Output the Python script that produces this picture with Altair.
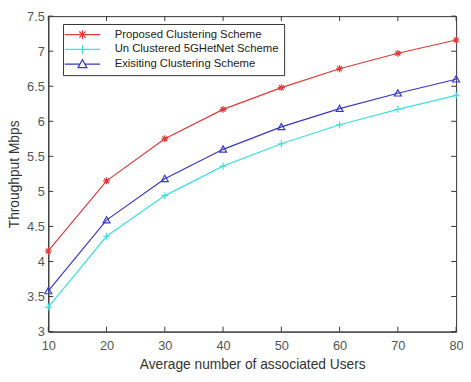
import altair as alt
import pandas as pd

users = [10, 20, 30, 40, 50, 60, 70, 80]
proposed = [4.15, 5.15, 5.75, 6.17, 6.48, 6.75, 6.97, 7.16]
unclustered = [3.35, 4.36, 4.94, 5.36, 5.68, 5.95, 6.17, 6.37]
existing = [3.58, 4.59, 5.18, 5.60, 5.92, 6.18, 6.40, 6.60]
yticks = [3, 3.5, 4, 4.5, 5, 5.5, 6, 6.5, 7, 7.5]

series = ["Proposed Clustering Scheme", "Un Clustered 5GHetNet Scheme", "Exisiting Clustering Scheme"]
colors = ["#e03a3a", "#3fe0e0", "#3838c8"]
markers = [
    "M-1,0L1,0M0,-1L0,1M-0.7,-0.7L0.7,0.7M-0.7,0.7L0.7,-0.7",
    "M-1,0L1,0M0,-1L0,1",
    "M0,-1L1,0.8L-1,0.8Z",
]
leg_paths = [
    "M-4,0L4,0M0,-1L0,1M-0.7,-0.7L0.7,0.7M-0.7,0.7L0.7,-0.7",
    "M-4,0L4,0M0,-1L0,1",
    "M-4,0L-0.55,0M0.55,0L4,0M0,-1L1,0.8L-1,0.8Z",
]

rows = []
for name, vals in zip(series, [proposed, unclustered, existing]):
    for u, v in zip(users, vals):
        rows.append({"users": u, "tp": v, "series": name})
df = pd.DataFrame(rows)
xt = pd.DataFrame({"users": users})
yt = pd.DataFrame({"tp": yticks})

font = "Liberation Sans"
W, H = 415, 321
xs = alt.Scale(domain=[10, 80], nice=False)
ys = alt.Scale(domain=[3, 7.5], nice=False)
cs = alt.Scale(domain=series, range=colors)

xaxis = alt.Axis(title="Average number of associated Users", values=users,
                 ticks=False, labelPadding=8, grid=False, labelFlush=False,
                 labelOverlap=False, titlePadding=6)
yaxis = alt.Axis(title="Throughput Mbps", values=yticks, format=".1~f",
                 ticks=False, labelPadding=4, grid=False, titlePadding=5,
                 labelFlush=False, labelOverlap=False)
X = alt.X("users:Q", scale=xs, axis=xaxis)
Y = alt.Y("tp:Q", scale=ys, axis=yaxis)

lines = alt.Chart(df).mark_line(strokeWidth=1.2).encode(
    x=X, y=Y, color=alt.Color("series:N", scale=cs, sort=series),
)

pts = []
for name, mk in zip(series, markers):
    pts.append(
        alt.Chart(df).transform_filter(alt.datum.series == name)
        .mark_point(filled=False, strokeWidth=1.2, size=50, opacity=1, shape=mk)
        .encode(x=X, y=Y, color=alt.Color("series:N", scale=cs, sort=series))
    )

leg = alt.Legend(
    title=None, orient="none", legendX=15, legendY=8,
    fillColor="white", strokeColor="#333", padding=5,
    labelFont=font, labelFontSize=11.5, labelColor="#222", labelLimit=300,
    rowPadding=0, symbolSize=81, symbolStrokeWidth=1.2, symbolOpacity=1,
    symbolFillColor="transparent", symbolOffset=9, labelOffset=27,
)
legend_layer = alt.Chart(df).mark_point(filled=False, opacity=0).encode(
    x=X, y=Y,
    color=alt.Color("series:N", scale=cs, sort=series, legend=leg),
    shape=alt.Shape("series:N", sort=series, scale=alt.Scale(domain=series, range=leg_paths), legend=leg),
)

tk = dict(color="#333", strokeWidth=1)
xb = alt.Chart(xt).mark_rule(**tk).encode(x=X, y=alt.value(H), y2=alt.value(H - 5))
xtp = alt.Chart(xt).mark_rule(**tk).encode(x=X, y=alt.value(0), y2=alt.value(5))
yl = alt.Chart(yt).mark_rule(**tk).encode(y=Y, x=alt.value(0), x2=alt.value(5))
yr = alt.Chart(yt).mark_rule(**tk).encode(y=Y, x=alt.value(W), x2=alt.value(W - 5))

chart = alt.layer(lines, *pts, legend_layer, xb, xtp, yl, yr).properties(
    width=W, height=H,
    autosize=alt.AutoSizeParams(type="none"),
    padding={"left": 41, "top": 5, "right": 7, "bottom": 48},
).configure(background="white").configure_view(stroke="#333", strokeWidth=1).configure_axis(
    domainColor="#333", labelColor="#555", titleColor="#333",
    labelFont=font, titleFont=font, labelFontSize=13, titleFontSize=14,
    titleFontWeight="normal",
)

chart.save("out.html", embed_options={"renderer": "svg", "actions": False})
